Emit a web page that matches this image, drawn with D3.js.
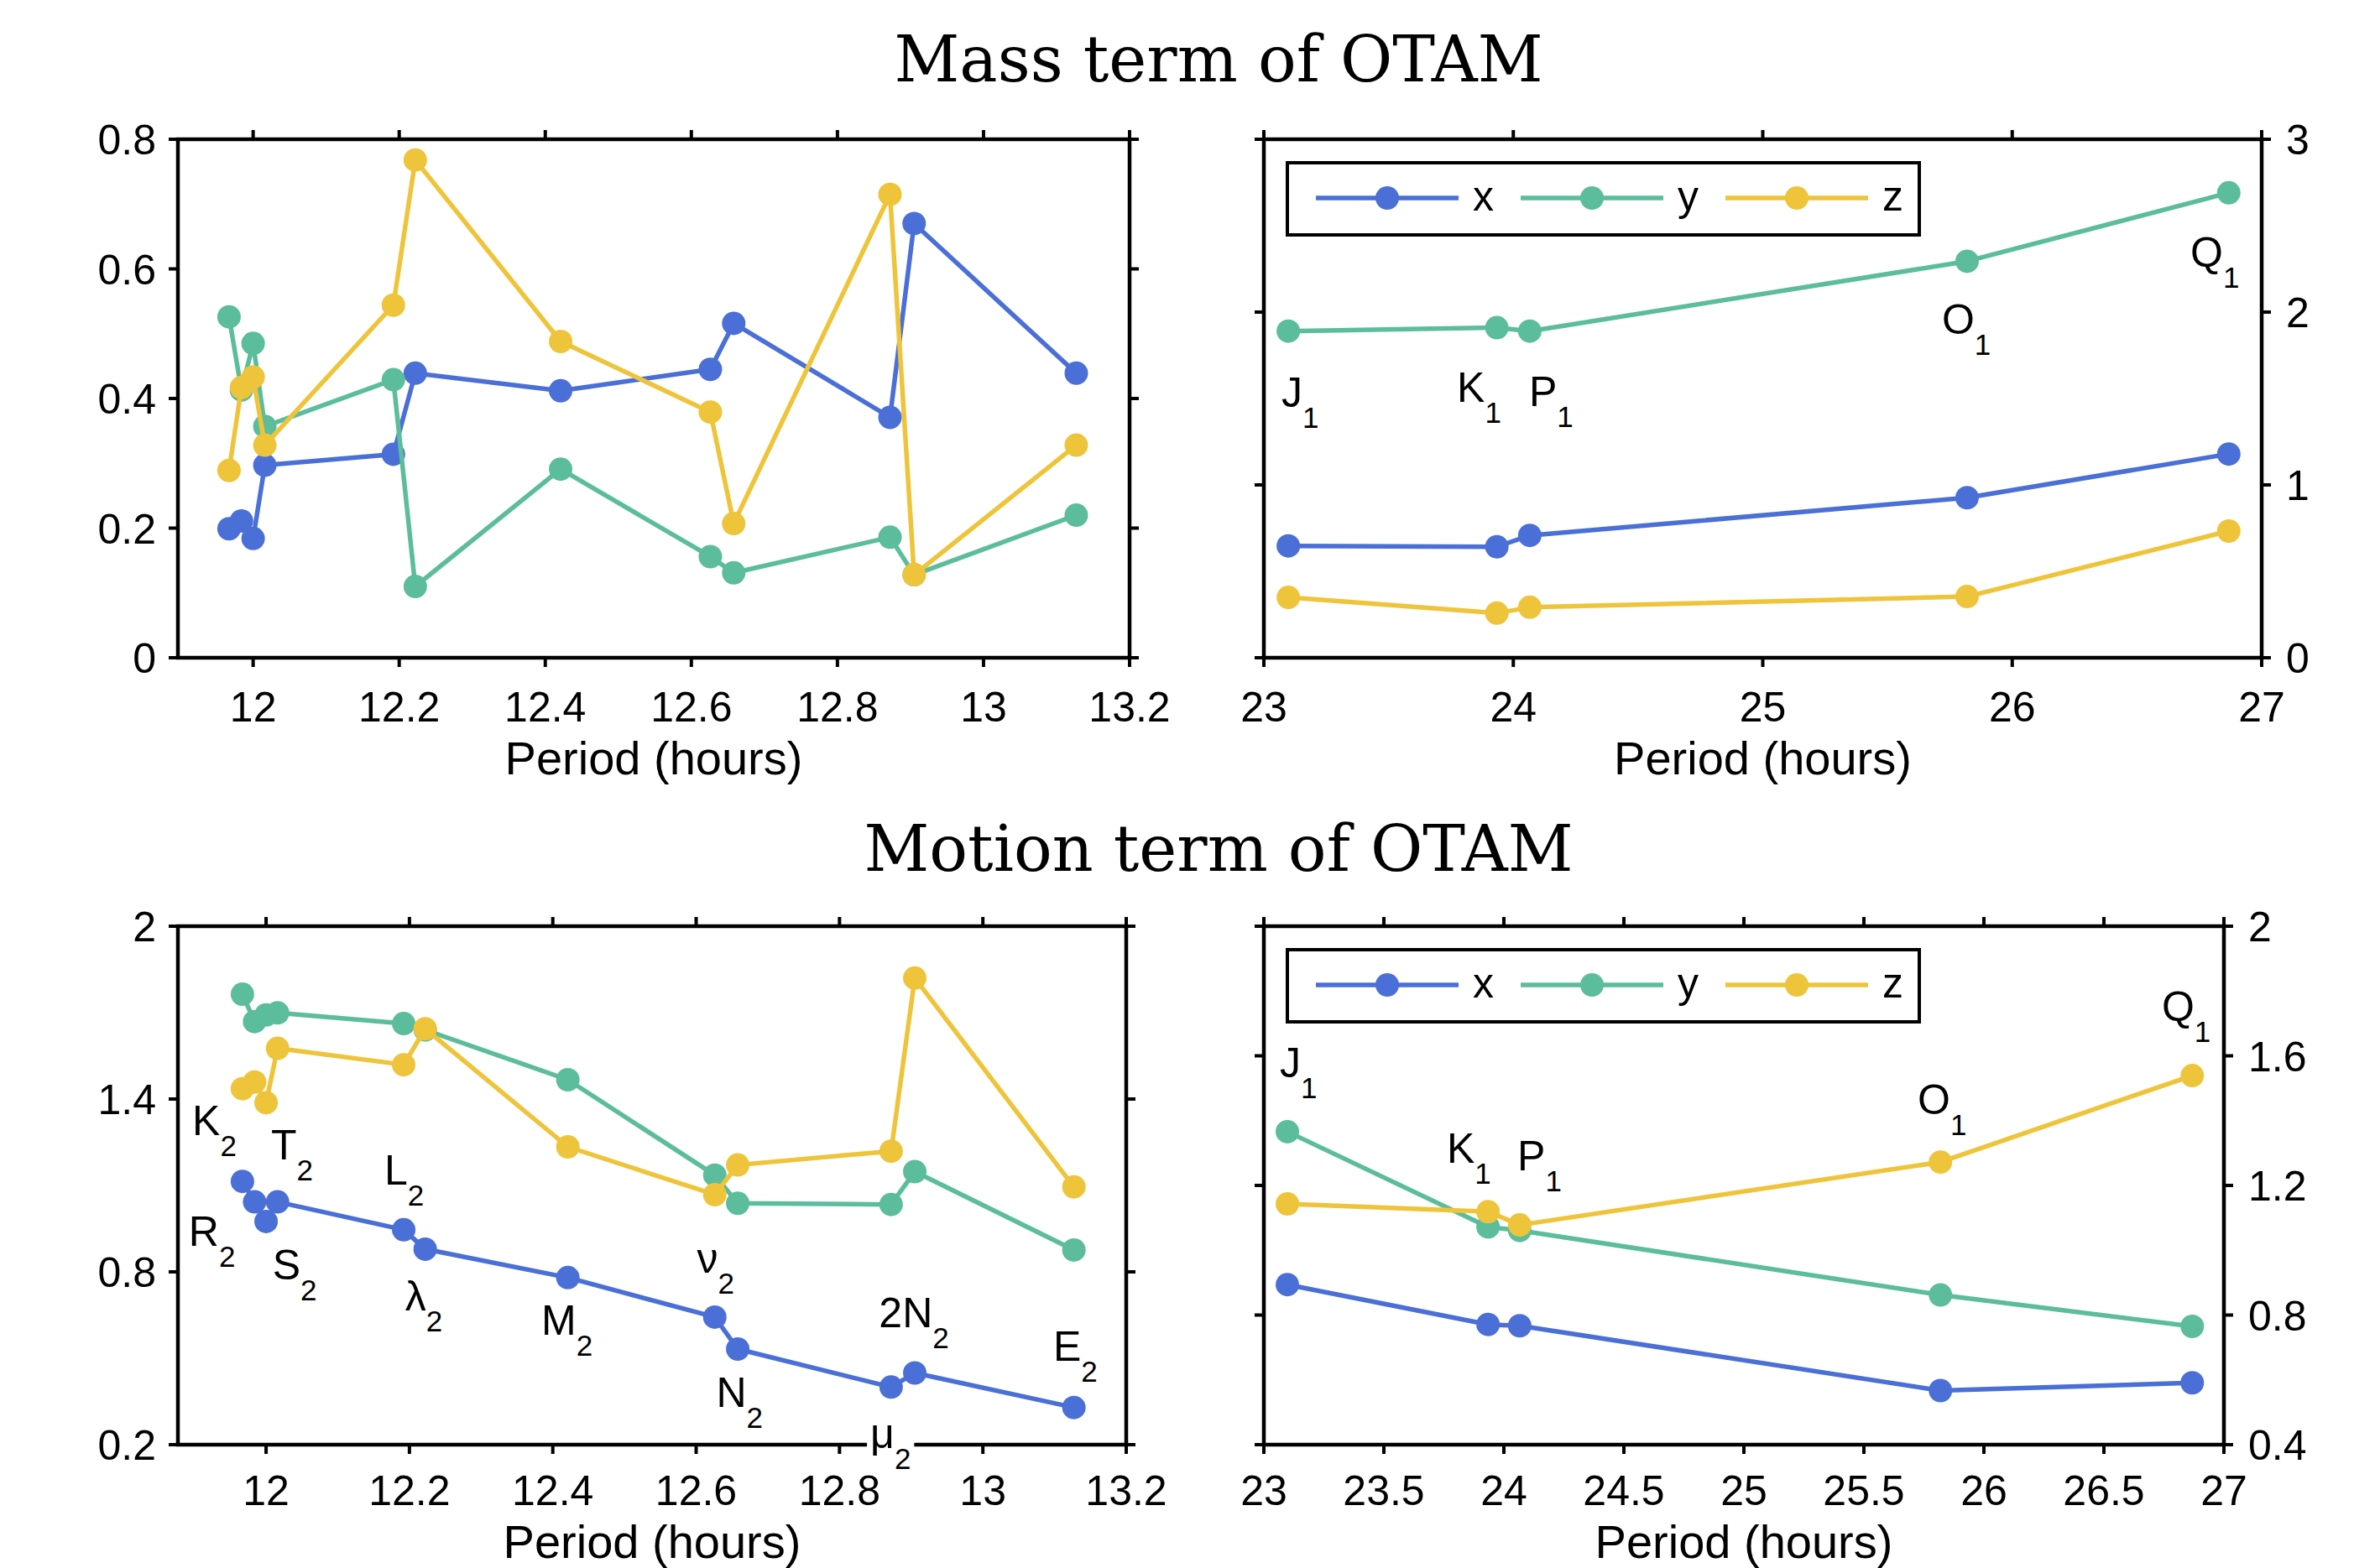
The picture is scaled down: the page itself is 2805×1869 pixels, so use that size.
<!DOCTYPE html>
<html>
<head>
<meta charset="utf-8">
<script src="https://cdn.jsdelivr.net/npm/d3@7"></script>
<style>
  body { margin: 0; background: #fff; }
</style>
</head>
<body>
<div id="chart"></div>
<script>
// Tidal constituent periods (hours)
const semiNames = ['K', 'R', 'S', 'T', 'L', 'λ', 'M', 'ν', 'N', 'μ', '2N', 'E'];
const semiPeriods = [11.967, 11.984, 12.000, 12.016, 12.192, 12.222, 12.421, 12.626, 12.658, 12.872, 12.905, 13.127];
const diurnalNames = ['J', 'K', 'P', 'O', 'Q'];
const diurnalPeriods = [23.098, 23.934, 24.066, 25.819, 26.868];

// Mass term
const massSemiX = [0.199, 0.211, 0.184, 0.297, 0.314, 0.439, 0.412, 0.445, 0.516, 0.371, 0.670, 0.439];
const massSemiY = [0.526, 0.413, 0.485, 0.357, 0.429, 0.110, 0.291, 0.156, 0.131, 0.186, 0.128, 0.220];
const massSemiZ = [0.289, 0.417, 0.433, 0.328, 0.544, 0.768, 0.488, 0.379, 0.207, 0.715, 0.128, 0.328];
const massDiurnalX = [0.647, 0.642, 0.708, 0.926, 1.179];
const massDiurnalY = [1.890, 1.910, 1.890, 2.294, 2.690];
const massDiurnalZ = [0.349, 0.258, 0.292, 0.354, 0.733];

// Motion term
const motionSemiX = [1.114, 1.043, 0.975, 1.043, 0.946, 0.879, 0.780, 0.643, 0.532, 0.400, 0.449, 0.329];
const motionSemiY = [1.764, 1.669, 1.692, 1.699, 1.662, 1.640, 1.467, 1.136, 1.038, 1.034, 1.148, 0.876];
const motionSemiZ = [1.436, 1.459, 1.387, 1.576, 1.519, 1.644, 1.234, 1.068, 1.171, 1.219, 1.820, 1.095];
const motionDiurnalX = [0.894, 0.771, 0.767, 0.567, 0.591];
const motionDiurnalY = [1.366, 1.072, 1.061, 0.862, 0.765];
const motionDiurnalZ = [1.143, 1.119, 1.078, 1.272, 1.539];

// Tick values
const semiTicksX = [12, 12.2, 12.4, 12.6, 12.8, 13, 13.2];
const diurnalTicksMass = [23, 24, 25, 26, 27];
const diurnalTicksMotion = [23, 23.5, 24, 24.5, 25, 25.5, 26, 26.5, 27];
const massSemiTicksY = [0, 0.2, 0.4, 0.6, 0.8];
const massDiurnalTicksY = [0, 1, 2, 3];
const motionSemiTicksY = [0.2, 0.8, 1.4, 2];
const motionDiurnalTicksY = [0.4, 0.8, 1.2, 1.6, 2];

// Label anchor points (data units: left edge, baseline)
const massDiurnalLabelX = [23.071, 23.774, 24.063, 25.718, 26.714];
const massDiurnalLabelY = [1.451, 1.481, 1.456, 1.874, 2.262];
const motionDiurnalLabelX = [23.066, 23.762, 24.056, 25.724, 26.741];
const motionDiurnalLabelY = [1.533, 1.270, 1.247, 1.420, 1.707];
const motionSemiLabelX = [11.897, 11.892, 12.009, 12.007, 12.165, 12.194, 12.384, 12.601, 12.628, 12.843, 12.855, 13.098];
const motionSemiLabelY = [1.275, 0.890, 0.774, 1.190, 1.103, 0.666, 0.582, 0.797, 0.331, 0.188, 0.608, 0.491];

const seriesNames = ['x', 'y', 'z'];
const colors = ['#4a6fd6', '#5bbd9b', '#eec43a'];

const W = 2805, H = 1869;
const tickFont = 50, labelFont = 56;
const sans = "'Liberation Sans', Arial, Helvetica, sans-serif";

const svg = d3.select('#chart').append('svg')
  .attr('width', W).attr('height', H)
  .style('background', '#fff');

svg.append('rect').attr('width', W).attr('height', H).attr('fill', '#fff');

const fmt = d => String(+d.toFixed(2));

function drawPanel(p) {
  const [x0, y0, x1, y1] = p.box;
  const x = d3.scaleLinear().domain(p.xDomain).range([x0, x1]);
  const y = d3.scaleLinear().domain(p.yDomain).range([y1, y0]);
  const g = svg.append('g');

  // Series: line + markers, x then y then z so z sits on top
  p.series.forEach((vals, si) => {
    const pts = p.periods.map((t, i) => ({ t, v: vals[i] }));
    const sg = g.append('g');
    sg.append('path')
      .datum(pts)
      .attr('fill', 'none')
      .attr('stroke', colors[si])
      .attr('stroke-width', 5.5)
      .attr('stroke-linejoin', 'round')
      .attr('d', d3.line().x(d => x(d.t)).y(d => y(d.v)));
    sg.selectAll('circle').data(pts).enter().append('circle')
      .attr('cx', d => x(d.t)).attr('cy', d => y(d.v))
      .attr('r', 14).attr('fill', colors[si]);
  });

  // Axes (ticks outward on all four sides)
  const tl = 11;
  const ax = g.append('g').attr('stroke', '#000').attr('stroke-width', 4);
  p.xTicks.forEach(t => {
    ax.append('line').attr('x1', x(t)).attr('x2', x(t)).attr('y1', y1).attr('y2', y1 + tl);
    ax.append('line').attr('x1', x(t)).attr('x2', x(t)).attr('y1', y0).attr('y2', y0 - tl);
  });
  p.yTicks.forEach(t => {
    ax.append('line').attr('x1', x0).attr('x2', x0 - tl).attr('y1', y(t)).attr('y2', y(t));
    ax.append('line').attr('x1', x1).attr('x2', x1 + tl).attr('y1', y(t)).attr('y2', y(t));
  });
  g.append('rect')
    .attr('x', x0).attr('y', y0).attr('width', x1 - x0).attr('height', y1 - y0)
    .attr('fill', 'none').attr('stroke', '#000').attr('stroke-width', 4.5);

  // Tick labels
  g.append('g').selectAll('text').data(p.xTicks).enter().append('text')
    .attr('x', d => x(d)).attr('y', y1 + p.tickGap)
    .attr('text-anchor', 'middle')
    .attr('font-family', sans).attr('font-size', tickFont)
    .text(fmt);
  g.append('g').selectAll('text').data(p.yTicks).enter().append('text')
    .attr('x', p.yRight ? x1 + 29 : x0 - 26)
    .attr('y', d => y(d)).attr('dy', '0.36em')
    .attr('text-anchor', p.yRight ? 'start' : 'end')
    .attr('font-family', sans).attr('font-size', tickFont)
    .text(fmt);

  // Axis label
  g.append('text')
    .attr('x', (x0 + x1) / 2).attr('y', y1 + p.labelGap)
    .attr('text-anchor', 'middle')
    .attr('font-family', sans).attr('font-size', labelFont)
    .text('Period (hours)');

  // Constituent labels with subscripts
  if (p.labels) {
    p.labels.names.forEach((name, i) => {
      const t = g.append('text')
        .attr('x', x(p.labels.lx[i])).attr('y', y(p.labels.ly[i]))
        .attr('font-family', sans).attr('font-size', tickFont);
      t.append('tspan').text(name);
      t.append('tspan').attr('font-size', 35).attr('dy', 25).text(p.labels.sub);
      if (name === 'μ') {
        const bb = t.node().getBBox();
        g.insert('rect', () => t.node())
          .attr('x', bb.x - 4).attr('y', bb.y).attr('width', bb.width + 8).attr('height', bb.height)
          .attr('fill', '#fff');
      }
    });
  }

  // Legend
  if (p.legend) {
    const lx = x0 + 28, ly = y0 + 28, lw = 753, lh = 86;
    const lg = g.append('g');
    lg.append('rect').attr('x', lx).attr('y', ly).attr('width', lw).attr('height', lh)
      .attr('fill', '#fff').attr('stroke', '#000').attr('stroke-width', 4);
    seriesNames.forEach((n, i) => {
      const ex = lx + i * 244, ey = ly + 42;
      lg.append('line').attr('x1', ex + 34).attr('x2', ex + 204).attr('y1', ey).attr('y2', ey)
        .attr('stroke', colors[i]).attr('stroke-width', 5.5);
      lg.append('circle').attr('cx', ex + 119).attr('cy', ey).attr('r', 14).attr('fill', colors[i]);
      lg.append('text').attr('x', ex + 221).attr('y', ey).attr('dy', '0.3em')
        .attr('font-family', sans).attr('font-size', tickFont).text(n);
    });
  }
}

const panels = [
  { box: [212, 166, 1346, 784], xDomain: [11.897, 13.2], yDomain: [0, 0.8], tickGap: 76, labelGap: 139,
    xTicks: semiTicksX, yTicks: massSemiTicksY, periods: semiPeriods,
    series: [massSemiX, massSemiY, massSemiZ] },
  { box: [1506, 166, 2695, 784], xDomain: [23, 27], yDomain: [0, 3], yRight: true, tickGap: 76, labelGap: 139,
    xTicks: diurnalTicksMass, yTicks: massDiurnalTicksY, periods: diurnalPeriods,
    series: [massDiurnalX, massDiurnalY, massDiurnalZ], legend: true,
    labels: { names: diurnalNames, sub: '1', lx: massDiurnalLabelX, ly: massDiurnalLabelY } },
  { box: [212, 1104, 1342, 1722], xDomain: [11.877, 13.2], yDomain: [0.2, 2], tickGap: 72, labelGap: 135,
    xTicks: semiTicksX, yTicks: motionSemiTicksY, periods: semiPeriods,
    series: [motionSemiX, motionSemiY, motionSemiZ],
    labels: { names: semiNames, sub: '2', lx: motionSemiLabelX, ly: motionSemiLabelY } },
  { box: [1506, 1104, 2650, 1722], xDomain: [23, 27], yDomain: [0.4, 2], yRight: true, tickGap: 72, labelGap: 135,
    xTicks: diurnalTicksMotion, yTicks: motionDiurnalTicksY, periods: diurnalPeriods,
    series: [motionDiurnalX, motionDiurnalY, motionDiurnalZ], legend: true,
    labels: { names: diurnalNames, sub: '1', lx: motionDiurnalLabelX, ly: motionDiurnalLabelY } }
];

panels.forEach(drawPanel);

// Titles
const serif = "'DejaVu Serif', serif";
svg.append('text').attr('x', 1452).attr('y', 97).attr('text-anchor', 'middle')
  .attr('font-family', serif).attr('font-size', 76).text('Mass term of OTAM');
svg.append('text').attr('x', 1452).attr('y', 1038).attr('text-anchor', 'middle')
  .attr('font-family', serif).attr('font-size', 76).text('Motion term of OTAM');
</script>
</body>
</html>
